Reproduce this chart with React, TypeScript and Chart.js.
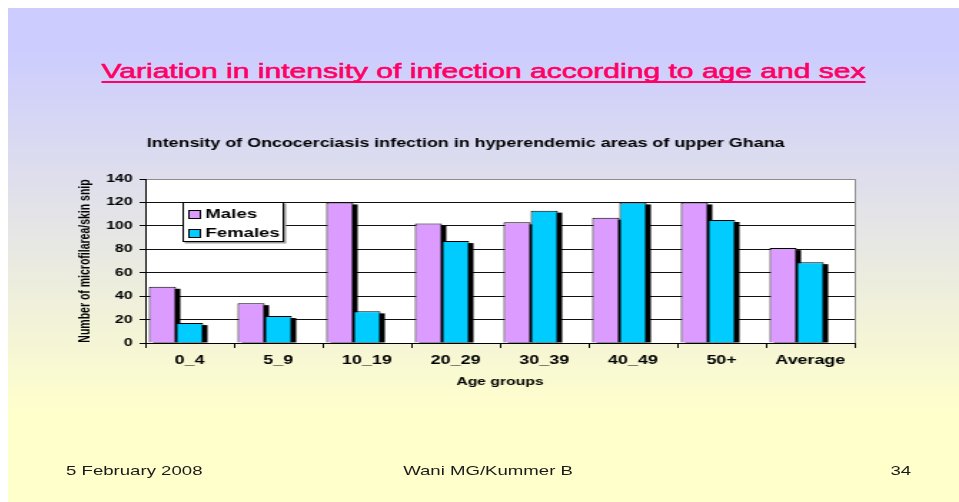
import { useEffect, useRef } from 'react';
import { Chart, registerables } from 'chart.js';

Chart.register(...registerables);

// ---- data ----
const categories = ['0_4', '5_9', '10_19', '20_29', '30_39', '40_49', '50+', 'Average'];
const males = [48, 34, 120, 102, 103, 107, 120, 81];
const females = [17, 23, 27, 87, 113, 120, 105, 69];
const yTicks = [0, 20, 40, 60, 80, 100, 120, 140];
const seriesNames = ['Males', 'Females'];
const seriesColors = ['#dc9cff', '#00ccff'];

const slideTitle = 'Variation in intensity of infection according to age and sex';
const chartTitle = 'Intensity of Oncocerciasis infection in hyperendemic areas of upper Ghana';
const yTitle = 'Number of microfilarea/skin snip';
const xTitle = 'Age groups';
const footerLeft = '5 February 2008';
const footerCenter = 'Wani MG/Kummer B';
const footerRight = '34';

// ---- layout (native, un-stretched units) ----
const W = 665;
const H = 494;
const S = 951 / W; // the slide is stretched horizontally
const FONT = '"Liberation Sans", Arial, Helvetica, sans-serif';

const plotBg = {
  id: 'plotBg',
  beforeDraw(chart: any) {
    const { ctx, chartArea } = chart;
    ctx.save();
    ctx.fillStyle = '#ffffff';
    ctx.fillRect(chartArea.left, chartArea.top, chartArea.right - chartArea.left, chartArea.bottom - chartArea.top);
    ctx.restore();
  },
};

const barShadow = {
  id: 'barShadow',
  beforeDatasetsDraw(chart: any) {
    const { ctx, chartArea } = chart;
    ctx.save();
    ctx.beginPath();
    ctx.rect(chartArea.left, chartArea.top, chartArea.right - chartArea.left, chartArea.bottom - chartArea.top);
    ctx.clip();
    ctx.fillStyle = '#000000';
    [0, 1].forEach((i) => {
      chart.getDatasetMeta(i).data.forEach((bar: any) => {
        const { x, y, base, width } = bar.getProps(['x', 'y', 'base', 'width'], true);
        ctx.fillRect(x - width / 2 + 3, y + 2, width, base - y - 2);
      });
    });
    ctx.restore();
  },
  afterDatasetsDraw(chart: any) {
    const { ctx, chartArea } = chart;
    ctx.save();
    ctx.strokeStyle = '#8c8c8c';
    ctx.lineWidth = 1;
    ctx.beginPath();
    ctx.moveTo(chartArea.right + 0.5, chartArea.top);
    ctx.lineTo(chartArea.right + 0.5, chartArea.bottom);
    ctx.stroke();
    ctx.restore();
  },
};

const boxLegend = {
  id: 'boxLegend',
  afterDraw(chart: any) {
    const { ctx, chartArea } = chart;
    const left = Math.round(chartArea.left + 26) + 0.5;
    const top = Math.round(chartArea.top + 23) + 0.5;
    const w = 70;
    const h = 39;
    ctx.save();
    ctx.fillStyle = '#9a9a9a';
    ctx.fillRect(left + 1, top + 1, w + 1, h + 1);
    ctx.fillStyle = '#ffffff';
    ctx.fillRect(left, top, w, h);
    ctx.strokeStyle = '#000000';
    ctx.lineWidth = 1;
    ctx.strokeRect(left, top, w, h);
    ctx.font = `bold 13px ${FONT}`;
    ctx.textBaseline = 'middle';
    ctx.textAlign = 'left';
    seriesNames.forEach((name, i) => {
      const cy = top + 11 + i * 19;
      ctx.fillStyle = seriesColors[i];
      ctx.fillRect(left + 4, Math.round(cy - 4) + 0.5, 8, 8);
      ctx.strokeStyle = '#000000';
      ctx.strokeRect(left + 4, Math.round(cy - 4) + 0.5, 8, 8);
      ctx.fillStyle = '#000000';
      ctx.fillText(name, left + 15.5, cy + 0.5);
    });
    ctx.restore();
  },
};

function BarChart() {
  const ref = useRef<HTMLCanvasElement | null>(null);
  useEffect(() => {
    if (!ref.current) return;
    const chart = new Chart(ref.current, {
      type: 'bar',
      data: {
        labels: categories,
        datasets: [
          {
            label: seriesNames[0],
            data: males,
            backgroundColor: seriesColors[0],
            borderColor: '#000000',
            borderWidth: 1,
            barPercentage: 1,
            categoryPercentage: 0.92,
          },
          {
            label: seriesNames[1],
            data: females,
            backgroundColor: seriesColors[1],
            borderColor: '#000000',
            borderWidth: 1,
            barPercentage: 1,
            categoryPercentage: 0.92,
          },
          {
            // empty spacer slot (Excel-style gap to the right of each group)
            label: '',
            data: categories.map(() => null),
            backgroundColor: 'rgba(0,0,0,0)',
            barPercentage: 1,
            categoryPercentage: 0.92,
          },
        ],
      },
      options: {
        responsive: false,
        animation: false,
        devicePixelRatio: 1,
        layout: { padding: { left: 48, right: 73, top: 120, bottom: 109 } },
        plugins: {
          legend: { display: false },
          tooltip: { enabled: false },
          title: {
            display: true,
            text: chartTitle,
            color: '#000000',
            font: { family: FONT, size: 12.5, weight: 'bold' },
            padding: { top: 8.5, bottom: 27.5 },
          },
        },
        scales: {
          x: {
            grid: {
              display: true,
              drawOnChartArea: false,
              drawTicks: true,
              tickLength: 5,
              color: '#000000',
              offset: true,
            },
            border: { color: '#000000', width: 1 },
            ticks: {
              color: '#000000',
              font: { family: FONT, size: 12.5, weight: 'bold' },
              padding: 5,
              maxRotation: 0,
              autoSkip: false,
            },
            title: {
              display: true,
              text: xTitle,
              color: '#000000',
              font: { family: FONT, size: 11, weight: 'bold' },
              padding: { top: 0, bottom: 4 },
            },
            afterFit: (s: any) => {
              s.height = 50;
            },
          },
          y: {
            min: 0,
            max: 140,
            afterBuildTicks: (s: any) => {
              s.ticks = yTicks.map((v) => ({ value: v }));
            },
            ticks: {
              color: '#000000',
              font: { family: FONT, size: 11, weight: 'bold' },
              padding: 5,
            },
            grid: {
              color: (c: any) => (c.tick && c.tick.value === 140 ? '#8c8c8c' : '#111111'),
              tickColor: '#000000',
              tickLength: 4,
              lineWidth: 1,
            },
            border: { color: '#000000', width: 1 },
            title: {
              display: true,
              text: yTitle,
              color: '#000000',
              font: { family: FONT, size: 10.5, weight: 'bold' },
              padding: 0,
            },
            afterFit: (s: any) => {
              s.width = 48;
            },
          },
        },
      },
      plugins: [plotBg, barShadow, boxLegend],
    } as any);
    return () => chart.destroy();
  }, []);
  return <canvas ref={ref} width={W} height={H} style={{ position: 'absolute', left: 0, top: 0 }} />;
}

export default function App() {
  const text: React.CSSProperties = {
    position: 'absolute',
    fontFamily: FONT,
    whiteSpace: 'nowrap',
  };
  return (
    <div
      style={{
        position: 'fixed',
        left: 8,
        top: 8,
        width: W,
        height: H,
        transform: `scaleX(${S})`,
        transformOrigin: '0 0',
        overflow: 'hidden',
        background: 'linear-gradient(to bottom, #ccccff 8%, #ffffcc 82%)',
      }}
    >
      <div
        style={{
          ...text,
          left: 0,
          width: W,
          top: 51,
          textAlign: 'center',
          fontSize: 21,
          lineHeight: '24px',
          color: '#ff0066',
          WebkitTextStroke: '0.6px #ff0066',
          textDecoration: 'underline',
          textDecorationThickness: '2px',
          textUnderlineOffset: '3px',
          textDecorationSkipInk: 'none',
        }}
      >
        {slideTitle}
      </div>
      <BarChart />
      <div style={{ ...text, left: 40.6, top: 455, fontSize: 13, lineHeight: '16px', color: '#1a1a1a' }}>{footerLeft}</div>
      <div
        style={{ ...text, left: 335.7 - 150, width: 300, textAlign: 'center', top: 455, fontSize: 13, lineHeight: '16px', color: '#1a1a1a' }}
      >
        {footerCenter}
      </div>
      <div style={{ ...text, right: W - 631.5, top: 455, fontSize: 13, lineHeight: '16px', color: '#1a1a1a' }}>{footerRight}</div>
    </div>
  );
}
